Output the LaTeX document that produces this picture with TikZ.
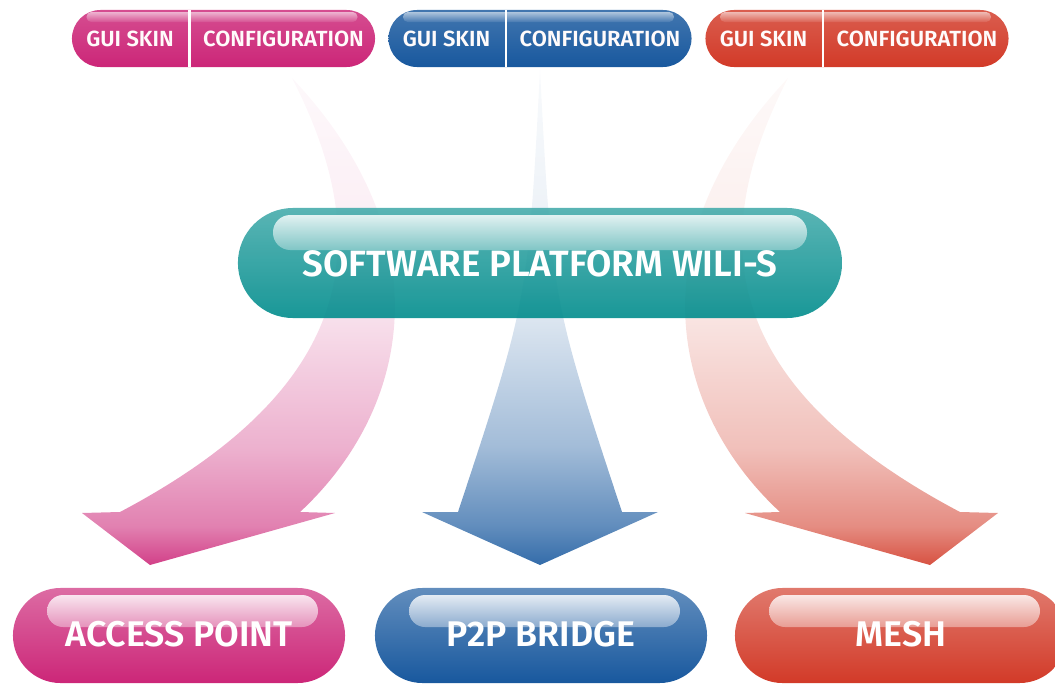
\documentclass[tikz,border=0pt]{standalone}
\usepackage{fontspec}
\setmainfont{Fira Sans}[BoldFont={Fira Sans SemiBold}]
\usetikzlibrary{positioning}

\definecolor{pinkc}{RGB}{204,38,120}
\definecolor{bluec}{RGB}{24,88,158}
\definecolor{redc}{RGB}{210,58,40}
\definecolor{tealc}{RGB}{0,140,140}

% fading fills for the big arrows (bottom strong, top nearly white)
\pgfdeclareverticalshading{pinkfade}{100bp}{color(0bp)=(pinkc!88!white); color(25bp)=(pinkc!88!white);
	color(29bp)=(pinkc!58!white); color(37bp)=(pinkc!36!white); color(50bp)=(pinkc!15!white);
	color(62bp)=(pinkc!7!white); color(75bp)=(pinkc!3!white); color(100bp)=(pinkc!3!white)}
\pgfdeclareverticalshading{bluefade}{100bp}{color(0bp)=(bluec!88!white); color(25bp)=(bluec!88!white);
	color(29bp)=(bluec!68!white); color(37bp)=(bluec!40!white); color(50bp)=(bluec!15!white);
	color(62bp)=(bluec!7!white); color(75bp)=(bluec!3!white); color(100bp)=(bluec!3!white)}
\pgfdeclareverticalshading{redfade}{100bp}{color(0bp)=(redc!88!white); color(25bp)=(redc!88!white);
	color(29bp)=(redc!58!white); color(37bp)=(redc!32!white); color(50bp)=(redc!14!white);
	color(62bp)=(redc!7!white); color(75bp)=(redc!3!white); color(100bp)=(redc!3!white)}

\tikzset{
	toppill/.style={minimum width=7.575cm, minimum height=1.425cm, rounded corners=0.7125cm, inner sep=0pt},
	midpill/.style={minimum width=15.1cm, minimum height=2.75cm, rounded corners=1.375cm, inner sep=0pt},
	botpill/.style={minimum width=8.3cm, minimum height=2.375cm, rounded corners=1.1875cm, inner sep=0pt},
	toptext/.style={text=white!94!pink, font=\fontsize{15.6}{17}\selectfont\bfseries},
	midtext/.style={text=white, font=\fontsize{26.1}{28}\selectfont\bfseries},
	bottext/.style={text=white, font=\fontsize{25.4}{28}\selectfont\bfseries},
	gloss/.style={top color=#1!12!white, bottom color=#1!50!white}
}

\begin{document}
\begin{tikzpicture}[x=0.025cm, y=-0.025cm]
	\useasboundingbox (0,0) rectangle (1055,685);

	% big arrows
	\shade[shading=pinkfade]
		(292,78) .. controls (370,230) and (370,380) .. (120,512) -- (82,513) -- (150,565)
		-- (335,513) -- (300,512) .. controls (410,410) and (445,240) .. (292,78) -- cycle;
	\shade[shading=bluefade]
		(540,70) .. controls (528,300) .. (458,512) -- (422,512) -- (540,565)
		-- (658,512) -- (622,512) .. controls (552,300) .. (540,70) -- cycle;
	\shade[shading=redfade]
		(788,78) .. controls (710,230) and (710,380) .. (960,512) -- (998,513) -- (930,565)
		-- (745,513) -- (780,512) .. controls (670,410) and (635,240) .. (788,78) -- cycle;

	% top pills
	\foreach \x/\c/\n in {223.5/pinkc/pk, 540/bluec/bl, 857/redc/rd}
	{
		\node[toppill, top color=\c!82!white, bottom color=\c] (top\n) at (\x,38.5) {};
		\shade[top color=\c!35!white, bottom color=\c!80!white, rounded corners=0.12cm] (\x-137,12) rectangle (\x+134,22);
		\draw[white, line width=2pt] (\x-34,10) -- (\x-34,67);
		\node[toptext] (gui\n) at (\x-93.5,38.5) {GUI SKIN};
		\node[toptext] (cfg\n) at (\x+60,38.5) {CONFIGURATION};
	}

	% platform
	\node[midpill, top color=tealc!72!white, bottom color=tealc, fill opacity=0.9] (wilis) at (540,263) {};
	\shade[gloss=tealc, rounded corners=0.43cm] (273,215) rectangle (807,250);
	\node[midtext] (wilistext) at (540,264) {SOFTWARE PLATFORM WILI-S};

	% products
	\foreach \x/\c/\n/\t in {179/pinkc/ap/ACCESS POINT, 541/bluec/br/P2P BRIDGE, 901/redc/ms/MESH}
	{
		\node[botpill, top color=\c!68!white, bottom color=\c] (bot\n) at (\x,635.5) {};
		\shade[gloss=\c, rounded corners=0.4cm] (\x-132,595) rectangle (\x+139,627);
		\node[bottext] (txt\n) at (\x,634) {\t};
	}
\end{tikzpicture}
\end{document}
